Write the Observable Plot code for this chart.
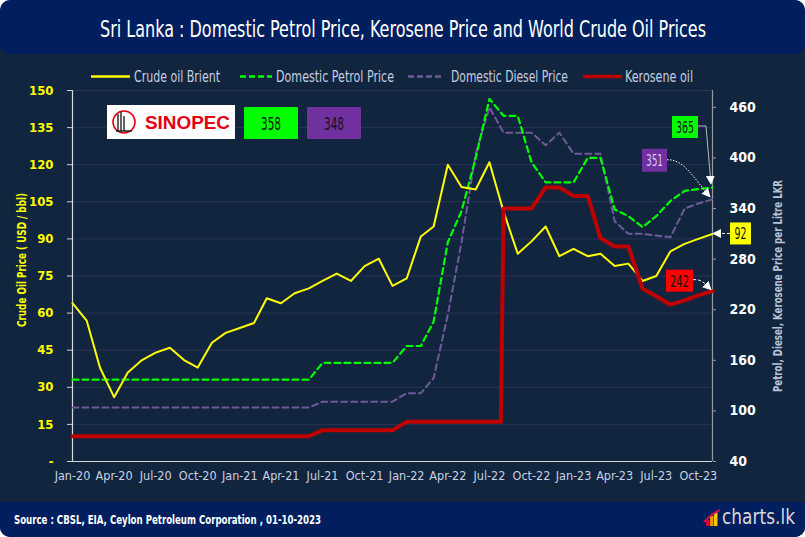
<!DOCTYPE html>
<html>
<head>
<meta charset="utf-8">
<script src="https://cdn.jsdelivr.net/npm/d3@7"></script>
<script src="https://cdn.jsdelivr.net/npm/@observablehq/plot@0.6"></script>
<style>
  html, body { margin: 0; padding: 0; background: #ffffff; }
  #card { position: relative; width: 805px; height: 537px; background: #12253F; border-radius: 10px; overflow: hidden; }
  #band { position: absolute; left: 0; top: 0; width: 805px; height: 54px; background: #011F5E; border-radius: 10px; }
  #foot { position: absolute; left: 0; top: 502px; width: 805px; height: 35px; background: #011F5E; }
  #chart { position: absolute; left: 0; top: 0; }
  #chart svg { background: transparent; }
</style>
</head>
<body>
<div id="card">
  <div id="band"></div>
  <div id="foot"></div>
  <div id="chart"></div>
</div>
<script>
const FONT = '"Liberation Sans Narrow","DejaVu Sans Condensed","Arial Narrow","Roboto",sans-serif';

// ---------------- data ----------------
const months = [
  "2020-01","2020-02","2020-03","2020-04","2020-05","2020-06","2020-07","2020-08","2020-09","2020-10","2020-11","2020-12",
  "2021-01","2021-02","2021-03","2021-04","2021-05","2021-06","2021-07","2021-08","2021-09","2021-10","2021-11","2021-12",
  "2022-01","2022-02","2022-03","2022-04","2022-05","2022-06","2022-07","2022-08","2022-09","2022-10","2022-11","2022-12",
  "2023-01","2023-02","2023-03","2023-04","2023-05","2023-06","2023-07","2023-08","2023-09","2023-10","2023-11"
];
// Crude oil Brient (USD / bbl) - left axis
const crudeBrent = [
  64, 57, 38, 26, 36, 41, 44, 46, 41, 38, 48, 52,
  54, 56, 66, 64, 68, 70, 73, 76, 73, 79, 82, 71,
  74, 91, 95, 120, 111, 110, 121, 101, 84, 89, 95, 83,
  86, 83, 84, 79, 80, 73, 75, 85, 88, 90, 92
];
// Domestic Petrol Price (LKR / litre) - right axis
const petrolPrice = [
  137, 137, 137, 137, 137, 137, 137, 137, 137, 137, 137, 137,
  137, 137, 137, 137, 137, 137, 157, 157, 157, 157, 157, 157,
  177, 177, 206, 300, 337, 400, 470, 450, 450, 395, 371, 371,
  371, 400, 400, 339, 331, 318, 331, 349, 361, 363, 365
];
// Domestic Diesel Price (LKR / litre) - right axis
const dieselPrice = [
  104, 104, 104, 104, 104, 104, 104, 104, 104, 104, 104, 104,
  104, 104, 104, 104, 104, 104, 111, 111, 111, 111, 111, 111,
  121, 121, 139, 214, 300, 405, 460, 430, 430, 430, 415, 430,
  405, 405, 405, 325, 310, 310, 308, 306, 340, 346, 351
];
// Kerosene oil (LKR / litre) - right axis
const kerosenePrice = [
  70, 70, 70, 70, 70, 70, 70, 70, 70, 70, 70, 70,
  70, 70, 70, 70, 70, 70, 77, 77, 77, 77, 77, 77,
  87, 87, 87, 87, 87, 87, 87, 340, 340, 340, 365, 365,
  355, 355, 305, 295, 295, 245, 236, 226, 231, 237, 242
];
// last day of the old kerosene price before the August 2022 revision
const keroseneStepDates = ["2022-07-26"];
const keroseneStepValues = [87];

const leftTicks = [0, 15, 30, 45, 60, 75, 90, 105, 120, 135, 150];
const rightTicks = [40, 100, 160, 220, 280, 340, 400, 460];
const rightDomain = [40, 480];
const xTickLabels = ["Jan-20","Apr-20","Jul-20","Oct-20","Jan-21","Apr-21","Jul-21","Oct-21",
                     "Jan-22","Apr-22","Jul-22","Oct-22","Jan-23","Apr-23","Jul-23","Oct-23"];
const sinopecPrices = [358, 348];

const titleText = "Sri Lanka : Domestic Petrol Price, Kerosene Price and World Crude Oil Prices";
const legendLabels = ["Crude oil Brient", "Domestic Petrol Price", "Domestic Diesel Price", "Kerosene oil"];
const leftTitle = "Crude Oil  Price ( USD / bbl)";
const rightTitle = "Petrol, Diesel, Kerosene Price per Litre LKR";
const sourceText = "Source : CBSL, EIA, Ceylon Petroleum Corporation , 01-10-2023";

// ---------------- helpers ----------------
const parseMonth = d3.utcParse("%Y-%m");
const parseDay = d3.utcParse("%Y-%m-%d");
const parseTick = d3.utcParse("%b-%y");
const fmtTick = d3.utcFormat("%b-%y");
const toLeft = v => (v - rightDomain[0]) / (rightDomain[1] - rightDomain[0]) * 150;
const fromLeft = v => rightDomain[0] + v / 150 * (rightDomain[1] - rightDomain[0]);

const dates = months.map(parseMonth);
const crudeData = dates.map((d, i) => ({date: d, v: crudeBrent[i]}));
const petrolData = dates.map((d, i) => ({date: d, v: toLeft(petrolPrice[i])}));
const dieselData = dates.map((d, i) => ({date: d, v: toLeft(dieselPrice[i])}));
const keroseneData = dates.map((d, i) => ({date: d, v: toLeft(kerosenePrice[i])}))
  .concat(keroseneStepDates.map((d, i) => ({date: parseDay(d), v: toLeft(keroseneStepValues[i])})))
  .sort((a, b) => a.date - b.date);
const xTicks = xTickLabels.map(parseTick);
const xDomain = [dates[0], dates[dates.length - 1]];

// ---------------- plot ----------------
const plot = Plot.plot({
  width: 805,
  height: 537,
  marginLeft: 72,
  marginRight: 93,
  marginTop: 90,
  marginBottom: 76,
  style: {background: "transparent", fontFamily: FONT, overflow: "visible"},
  x: {type: "utc", domain: xDomain},
  y: {domain: [0, 150]},
  marks: [
    Plot.gridY(leftTicks, {stroke: "#2a3257", strokeOpacity: 1, strokeWidth: 1}),
    Plot.axisY({ticks: leftTicks, tickFormat: d => d === 0 ? "-" : String(d), tickSize: 5, tickPadding: 14,
      stroke: "#d0d0d0", fill: "#ffff00", fontSize: 13, fontWeight: "bold", label: null}),
    Plot.axisY({anchor: "right", ticks: rightTicks.map(toLeft), tickFormat: d => String(Math.round(fromLeft(d))),
      tickSize: 3, tickPadding: 14, stroke: "#9a9a9a", fill: "#ffffff", fontSize: 14, fontWeight: "bold", label: null}),
    Plot.axisX({ticks: xTicks, tickFormat: d => fmtTick(d), tickSize: 0, tickPadding: 10,
      fill: "#c9d1e3", fontSize: 12.5, label: null}),
    Plot.ruleX([xDomain[0]], {stroke: "#d8d8d8", strokeWidth: 1.2}),
    Plot.ruleX([xDomain[1]], {stroke: "#9a9a9a", strokeWidth: 1.2}),
    Plot.ruleY([0], {stroke: "#d8d8d8", strokeWidth: 1.2, x1: xDomain[0], x2: xDomain[1], dx: 0}),
    Plot.line(dieselData, {x: "date", y: "v", stroke: "#6f5a98", strokeWidth: 2, strokeDasharray: "6,4"}),
    Plot.line(petrolData, {x: "date", y: "v", stroke: "#00ff00", strokeWidth: 2.2, strokeDasharray: "6,4"}),
    Plot.line(crudeData, {x: "date", y: "v", stroke: "#ffff00", strokeWidth: 2}),
    Plot.line(keroseneData, {x: "date", y: "v", stroke: "#c00000", strokeWidth: 4})
  ]
});
document.getElementById("chart").appendChild(plot);

// ---------------- overlay: titles, legend, annotations ----------------
const xs = plot.scale("x"), ys = plot.scale("y");
const ov = d3.select("#card").append("svg")
  .attr("width", 805).attr("height", 537)
  .style("position", "absolute").style("left", "0px").style("top", "0px")
  .style("pointer-events", "none");

const defs = ov.append("defs");
defs.append("marker").attr("id", "ah").attr("viewBox", "0 0 10 10").attr("refX", 9).attr("refY", 5)
  .attr("markerWidth", 9).attr("markerHeight", 9).attr("markerUnits", "userSpaceOnUse").attr("orient", "auto")
  .append("path").attr("d", "M0,0L10,5L0,10z").attr("fill", "#ffffff");

function txt(s, x, y, o) {
  const t = ov.append("text").text(s)
    .attr("x", x).attr("y", y)
    .attr("font-family", o.family || FONT)
    .attr("font-size", o.size)
    .attr("font-weight", o.weight || "normal")
    .attr("fill", o.fill)
    .attr("text-anchor", o.anchor || "middle")
    .attr("dominant-baseline", "central");
  if (o.len) t.attr("textLength", o.len).attr("lengthAdjust", "spacingAndGlyphs");
  let tr = "";
  if (o.rotate) tr += `rotate(${o.rotate},${x},${y})`;
  if (o.sy) tr += ` translate(0,${y}) scale(1,${o.sy}) translate(0,${-y})`;
  if (tr) t.attr("transform", tr.trim());
  return t;
}

// title (taller, narrow look)
txt(titleText, 403, 30, {len: 606, size: 17, fill: "#ffffff", sy: 1.3});

// legend
const legendY = 76.5;
const legendItems = [
  {x1: 91, x2: 130, color: "#ffff00", w: 2.5, dash: null, tx: 177, tl: 86},
  {x1: 240, x2: 272, color: "#00ff00", w: 2.5, dash: "6,3", tx: 335, tl: 118},
  {x1: 408, x2: 441, color: "#6f5a98", w: 2.5, dash: "6,3", tx: 509.5, tl: 117},
  {x1: 583, x2: 622, color: "#c00000", w: 3.5, dash: null, tx: 659, tl: 68}
];
legendItems.forEach((it, i) => {
  const l = ov.append("line").attr("x1", it.x1).attr("x2", it.x2).attr("y1", legendY).attr("y2", legendY)
    .attr("stroke", it.color).attr("stroke-width", it.w);
  if (it.dash) l.attr("stroke-dasharray", it.dash);
  txt(legendLabels[i], it.tx, legendY, {len: it.tl, size: 14, fill: "#c5cde0", sy: 1.1});
});

// axis titles
txt(leftTitle, 21, 260, {len: 134, size: 13, fill: "#ffff00", weight: "bold", rotate: -90});
txt(rightTitle, 777, 286, {len: 212, size: 13, fill: "#b8c3d6", weight: "bold", rotate: -90});

// footer
txt(sourceText, 14, 519, {len: 307, size: 13, fill: "#ffffff", weight: "bold", anchor: "start"});
txt("charts.lk", 722, 517, {len: 73, size: 21, fill: "#d8d8d8", anchor: "start"});
const logoBars = [{x: 706, h: 6, c: "#e4003a"}, {x: 710, h: 10, c: "#f39200"}, {x: 714, h: 14, c: "#f7c600"}];
logoBars.forEach(b => ov.append("rect").attr("x", b.x).attr("y", 526 - b.h).attr("width", 3.5).attr("height", b.h).attr("fill", b.c));
ov.append("path").attr("d", "M704,522 Q711,514 720,510").attr("stroke", "#c2185b").attr("stroke-width", 2).attr("fill", "none");

// SINOPEC block
ov.append("rect").attr("x", 107).attr("y", 105).attr("width", 128).attr("height", 34).attr("fill", "#ffffff");
ov.append("circle").attr("cx", 124).attr("cy", 122).attr("r", 11).attr("fill", "none").attr("stroke", "#e60012").attr("stroke-width", 1.6);
ov.append("path").attr("d", "M118,131 L118,114 M121,131 L121,112 M124,131 L124,116 M116,131 L132,131")
  .attr("stroke", "#222").attr("stroke-width", 1.4).attr("fill", "none");
txt("SINOPEC", 145, 122, {len: 85, size: 19, fill: "#e60012", weight: "bold", anchor: "start", family: '"Liberation Sans",Arial,sans-serif'});
// Sinopec price boxes
const sinoBoxes = [{x: 244, fill: "#00ff00"}, {x: 307, fill: "#7030a0"}];
sinoBoxes.forEach((b, i) => {
  ov.append("rect").attr("x", b.x).attr("y", 107).attr("width", 54).attr("height", 32).attr("fill", b.fill).attr("rx", 1);
  txt(String(sinopecPrices[i]), b.x + 27, 123.5, {len: 20, size: 18, fill: "#111111"});
});

// end-point annotations (positions from the library's scales)
const lastDate = dates[dates.length - 1];
const ex = xs.apply(lastDate);
const n = months.length - 1;
const eyPetrol = ys.apply(toLeft(petrolPrice[n]));
const eyDiesel = ys.apply(toLeft(dieselPrice[n]));
const eyCrude = ys.apply(crudeBrent[n]);
const eyKero = ys.apply(toLeft(kerosenePrice[n]));

function box(x, y, w, h, fill, label, color, tl) {
  ov.append("rect").attr("x", x).attr("y", y).attr("width", w).attr("height", h).attr("fill", fill);
  txt(label, x + w / 2, y + h / 2 + 0.5, {len: tl, size: 16, fill: color});
}
// petrol 365
box(ex - 40, eyPetrol - 71, 26, 22, "#00ff00", String(petrolPrice[n]), "#111111", 18);
ov.append("path").attr("d", `M${ex - 14},${eyPetrol - 61} L${ex - 6},${eyPetrol - 61} L${ex - 1},${eyPetrol - 3}`)
  .attr("stroke", "#b8b8b8").attr("stroke-width", 1).attr("fill", "none").attr("marker-end", "url(#ah)");
// diesel 351
box(ex - 70, eyDiesel - 50, 25, 23, "#7030a0", String(dieselPrice[n]), "#d8c8ee", 17);
ov.append("path").attr("d", `M${ex - 45},${eyDiesel - 39} C${ex - 28},${eyDiesel - 40} ${ex - 18},${eyDiesel - 20} ${ex - 2},${eyDiesel - 2}`)
  .attr("stroke", "#ffffff").attr("stroke-width", 1).attr("stroke-dasharray", "1.5,1.5").attr("fill", "none").attr("marker-end", "url(#ah)");
// crude 92
box(ex + 18, eyCrude - 11, 21, 22, "#ffff00", String(crudeBrent[n]), "#111111", 12);
ov.append("path").attr("d", `M${ex + 18},${eyCrude} L${ex + 1},${eyCrude}`)
  .attr("stroke", "#ffffff").attr("stroke-width", 1).attr("stroke-dasharray", "3,2").attr("fill", "none").attr("marker-end", "url(#ah)");
// kerosene 242
box(ex - 46, eyKero - 21, 27, 22, "#ff0000", String(kerosenePrice[n]), "#111111", 19);
ov.append("path").attr("d", `M${ex - 19},${eyKero - 11} C${ex - 10},${eyKero - 12} ${ex - 6},${eyKero - 6} ${ex - 1},${eyKero - 1}`)
  .attr("stroke", "#ffffff").attr("stroke-width", 1).attr("stroke-dasharray", "3,2").attr("fill", "none").attr("marker-end", "url(#ah)");
</script>
</body>
</html>
